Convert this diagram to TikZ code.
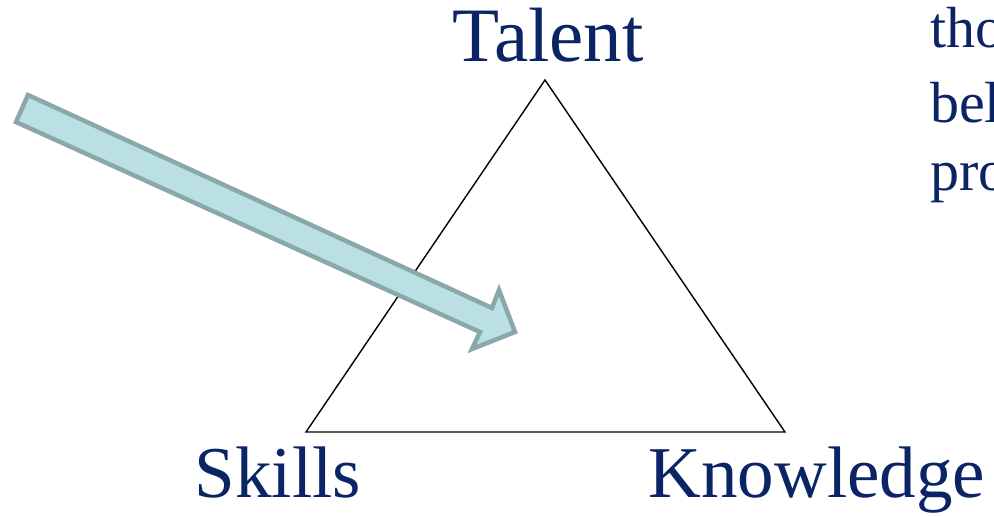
\documentclass[tikz,border=0pt]{standalone}
\usepackage{fontspec}
\setmainfont{Liberation Serif}
\definecolor{navy}{RGB}{10,36,102}
\definecolor{arrowfill}{RGB}{186,224,227}
\definecolor{arrowline}{RGB}{138,168,170}

\begin{document}
\begin{tikzpicture}[
  x=1pt, y=-1pt,
  corner/.style={text=navy, font=\fontsize{77}{80}\selectfont, inner sep=0pt},
  base/.style={corner, font=\fontsize{73}{76}\selectfont},
  side/.style={text=navy, font=\fontsize{58}{62}\selectfont, inner sep=0pt, anchor=base west},
  blockarrow/.style={draw=arrowline, fill=arrowfill, line width=4.5pt, line join=miter}
]
  \clip (0,0) rectangle (994,516);

  % corners of the triangle
  \coordinate (top) at (545,80);
  \coordinate (left) at (306,432);
  \coordinate (right) at (785,432);
  \draw[line width=1.4pt, line join=miter] (top) -- (left) -- (right) -- cycle;

  \node[corner, anchor=base] (talent) at (548,62) {Talent};
  \node[base, anchor=base] (skills) at (278,497) {Skills};
  \node[base, anchor=base] (knowledge) at (817,497) {Knowledge};

  % text running off the right side
  \node[side] (l1) at (930,48) {tho};
  \node[side] (l2) at (930,123) {bel};
  \node[side] (l3) at (930,190) {pro};

  % block arrow pointing into the triangle
  \coordinate (a1) at (28,95);
  \coordinate (a2) at (492,308);
  \coordinate (a3) at (499,290);
  \coordinate (tip) at (515,332);
  \coordinate (a4) at (472,349);
  \coordinate (a5) at (480,332);
  \coordinate (a6) at (16,122);
  \draw[blockarrow] (a1) -- (a2) -- (a3) -- (tip) -- (a4) -- (a5) -- (a6) -- cycle;
\end{tikzpicture}
\end{document}
